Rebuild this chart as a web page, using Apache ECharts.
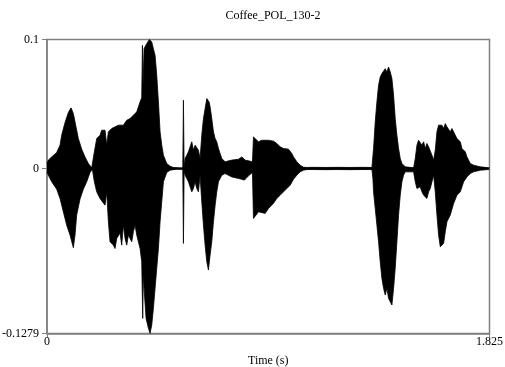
<!DOCTYPE html>
<html><head><meta charset="utf-8">
<script src="https://cdn.jsdelivr.net/npm/echarts@6/dist/echarts.min.js"></script>
<style>html,body{margin:0;padding:0;background:#fff}#c{width:505px;height:367px}</style>
</head><body><div id="c"></div>
<script>
const chartTitle = 'Coffee_POL_130-2';
const xTicks = [0, 1.825];
const yTicks = [-0.1279, 0, 0.1];
const upperEnvelope = [
[0,0.004],[0.0055,0.0065],[0.0193,0.0090],[0.0399,0.0124],[0.0537,0.0181],[0.0605,0.0258],[0.0743,0.0356],[0.0880,0.0434],[0.0991,0.0470],[0.1087,0.0426],[0.1183,0.0336],[0.1293,0.0232],[0.1431,0.0150],[0.1568,0.0090],[0.1706,0.0039],[0.1843,0.0005],
[0.1953,0.0129],[0.2050,0.0232],[0.2187,0.0258],[0.2256,0.0297],[0.2394,0.0297],[0.2463,0.0181],[0.2531,0.0284],[0.2669,0.0310],[0.2806,0.0323],[0.2944,0.0336],
[0.3013,0.0348],[0.3150,0.0336],[0.3288,0.0374],[0.3426,0.0387],[0.3563,0.0413],[0.3701,0.0439],[0.3838,0.0516],[0.3907,0.0550],[0.3935,0.0955],[0.3962,0.0650],[0.4003,0.0929],[0.4113,0.0968],[0.4223,0.1000],[0.4320,0.0981],[0.4388,0.0929],[0.4457,0.0878],[0.4526,0.0723],[0.4595,0.0516],[0.4664,0.0284],[0.4733,0.0181],[0.4801,0.0103],[0.4939,0.0039],[0.5076,0.0018],[0.5214,0.0008],[0.5489,0.0003],[0.5600,0.0004],[0.5627,0.0529],[0.5655,0.0010],[0.5695,0.0077],[0.5764,0.0103],[0.5833,0.0129],[0.5971,0.0207],[0.6039,0.0142],[0.6108,0.0181],
[0.6177,0.0181],[0.6246,0.0142],[0.6314,0.0077],[0.6383,0.0258],[0.6452,0.0387],[0.6521,0.0465],[0.6590,0.0542],[0.6686,0.0516],[0.6727,0.0478],[0.6796,0.0387],[0.6865,0.0284],[0.6934,0.0232],[0.7002,0.0207],[0.7071,0.0155],[0.7140,0.0116],[0.7209,0.0077],[0.7346,0.0052],[0.7621,0.0065],[0.7896,0.0072],[0.8034,0.0090],[0.8103,0.0103],[0.8172,0.0065],[0.8378,0.0057],[0.8474,0.0052],[0.8515,0.0245],[0.8584,0.0232],[0.8722,0.0207],[0.8860,0.0219],[0.9135,0.0219],[0.9341,0.0212],
[0.9478,0.0194],[0.9616,0.0168],[0.9754,0.0155],[0.9960,0.0150],[1.0098,0.0116],[1.0166,0.0090],[1.0304,0.0052],[1.0442,0.0026],[1.0579,0.0010],[1.0717,0.0008],[1.10,0.0009],[1.15,0.0008],[1.20,0.0009],[1.25,0.0008],[1.30,0.0009],[1.3400,0.0008],
[1.3468,0.0155],[1.3537,0.0361],[1.3606,0.0516],[1.3674,0.0645],[1.3743,0.0710],[1.3812,0.0736],[1.3950,0.0774],[1.4018,0.0749],[1.4087,0.0787],[1.4156,0.0749],[1.4225,0.0697],[1.4294,0.0568],[1.4362,0.0387],[1.4431,0.0258],[1.4500,0.0155],[1.4569,0.0077],[1.4638,0.0039],[1.4775,0.0013],[1.5119,0.0005],[1.5188,0.0077],[1.5257,0.0181],[1.5325,0.0219],[1.5394,0.0207],
[1.5463,0.0181],[1.5532,0.0207],[1.5601,0.0155],[1.5669,0.0194],[1.5738,0.0168],[1.5807,0.0155],[1.5876,0.0103],[1.5945,0.0065],[1.6013,0.0142],[1.6082,0.0284],[1.6151,0.0336],[1.6220,0.0323],[1.6289,0.0336],[1.6357,0.0310],[1.6426,0.0348],[1.6495,0.0323],[1.6632,0.0284],[1.6701,0.0310],[1.6770,0.0284],[1.6839,0.0258],[1.6908,0.0232],[1.7045,0.0207],[1.7114,0.0155],[1.7251,0.0129],[1.7320,0.0090],[1.7458,0.0039],[1.7596,0.0026],[1.7870,0.0013],[1.8214,0.0005],[1.825,0.0005]
];
const lowerEnvelope = [
[0,-0.003],[0.0055,-0.0052],[0.0193,-0.0103],[0.0399,-0.0160],[0.0537,-0.0232],[0.0674,-0.0336],[0.0812,-0.0439],[0.0949,-0.0516],[0.1087,-0.0614],[0.1156,-0.0516],[0.1224,-0.0361],[0.1362,-0.0237],[0.1499,-0.0160],[0.1637,-0.0103],[0.1775,-0.0031],[0.1871,-0.0005],
[0.1953,-0.0103],[0.2050,-0.0181],[0.2187,-0.0232],[0.2284,-0.0258],[0.2394,-0.0284],[0.2463,-0.0181],[0.2531,-0.0413],[0.2600,-0.0568],[0.2738,-0.0594],[0.2806,-0.0620],[0.2875,-0.0542],[0.3013,-0.0500],
[0.3082,-0.0594],[0.3150,-0.0439],[0.3219,-0.0542],[0.3288,-0.0594],[0.3357,-0.0516],[0.3426,-0.0542],[0.3494,-0.0568],[0.3563,-0.0490],[0.3632,-0.0439],[0.3701,-0.0516],[0.3769,-0.0568],[0.3838,-0.0620],[0.3907,-0.0723],[0.3948,-0.1162],[0.3975,-0.0800],[0.4003,-0.0929],[0.4086,-0.1162],[0.4182,-0.1239],[0.4251,-0.1278],[0.4320,-0.1213],[0.4388,-0.1084],[0.4457,-0.0929],[0.4526,-0.0774],[0.4595,-0.0620],[0.4664,-0.0413],[0.4733,-0.0258],[0.4801,-0.0103],[0.4939,-0.0031],[0.5076,-0.0013],[0.5351,-0.0005],[0.5600,-0.0005],[0.5627,-0.0581],[0.5655,-0.0020],[0.5695,-0.0052],[0.5764,-0.0077],[0.5833,-0.0103],[0.5902,-0.0116],[0.5971,-0.0181],[0.6039,-0.0155],[0.6108,-0.0103],
[0.6177,-0.0155],[0.6246,-0.0181],[0.6314,-0.0052],[0.6383,-0.0258],[0.6452,-0.0439],[0.6521,-0.0594],[0.6590,-0.0723],[0.6658,-0.0787],[0.6727,-0.0671],[0.6796,-0.0568],[0.6865,-0.0413],[0.6934,-0.0284],[0.7002,-0.0181],[0.7071,-0.0103],[0.7209,-0.0052],[0.7346,-0.0039],[0.7621,-0.0065],[0.7896,-0.0077],[0.8144,-0.0090],[0.8309,-0.0057],[0.8474,-0.0031],[0.8515,-0.0387],[0.8584,-0.0374],[0.8722,-0.0336],[0.8997,-0.0348],[0.9135,-0.0310],[0.9341,-0.0270],
[0.9478,-0.0232],[0.9616,-0.0207],[0.9754,-0.0181],[0.9891,-0.0155],[1.0029,-0.0129],[1.0166,-0.0083],[1.0304,-0.0052],[1.0442,-0.0026],[1.0579,-0.0013],[1.0717,-0.0008],[1.10,-0.0008],[1.15,-0.0009],[1.20,-0.0008],[1.25,-0.0009],[1.30,-0.0008],[1.3400,-0.0008],
[1.3441,-0.0077],[1.3468,-0.0181],[1.3537,-0.0310],[1.3606,-0.0439],[1.3674,-0.0568],[1.3743,-0.0723],[1.3812,-0.0852],[1.3881,-0.0929],[1.3950,-0.0981],[1.4018,-0.0929],[1.4087,-0.1007],[1.4225,-0.1058],[1.4294,-0.0929],[1.4362,-0.0774],[1.4431,-0.0568],[1.4500,-0.0361],[1.4569,-0.0207],[1.4638,-0.0103],[1.4706,-0.0052],[1.4775,-0.0026],[1.5119,-0.0026],[1.5188,-0.0103],[1.5257,-0.0155],[1.5325,-0.0168],[1.5394,-0.0142],
[1.5463,-0.0181],[1.5532,-0.0207],[1.5601,-0.0194],[1.5669,-0.0232],[1.5738,-0.0181],[1.5807,-0.0155],[1.5876,-0.0103],[1.5945,-0.0052],[1.6013,-0.0181],[1.6082,-0.0361],[1.6151,-0.0516],[1.6220,-0.0607],[1.6289,-0.0620],[1.6357,-0.0581],[1.6426,-0.0490],[1.6495,-0.0413],[1.6632,-0.0361],[1.6770,-0.0271],[1.6908,-0.0207],[1.7045,-0.0181],[1.7114,-0.0142],[1.7183,-0.0103],[1.7320,-0.0065],[1.7458,-0.0039],[1.7596,-0.0026],[1.7870,-0.0013],[1.8214,-0.0008],[1.825,-0.0008]
];

const font = 'Liberation Serif';
const axisGray = '#808080';
const chart = echarts.init(document.getElementById('c'), null, {renderer: 'canvas'});
function fmt(v) {
  for (const t of yTicks) if (Math.abs(v - t) < 1e-9) return String(t);
  for (const t of xTicks) if (Math.abs(v - t) < 1e-9) return String(t);
  return '';
}
const waveSeries = (data, origin) => ({
  type: 'line', data: data, showSymbol: false, symbol: 'none', sampling: null,
  lineStyle: {color: '#000', width: 0.8}, areaStyle: {color: '#000', opacity: 1, origin: origin},
  silent: true, animation: false, z: 2
});
chart.setOption({
  animation: false,
  title: {text: chartTitle, left: 268, top: 5, textAlign: 'center',
    textStyle: {fontFamily: font, fontSize: 12, fontWeight: 'normal', color: '#000'}},
  grid: {left: 47, right: 15.5, top: 39.5, bottom: 33.5, containLabel: false, outerBoundsMode: 'none',
    show: true, borderColor: axisGray, borderWidth: 1.5, backgroundColor: 'transparent'},
  xAxis: {
    type: 'value', min: 0, max: 1.825,
    name: 'Time (s)', nameLocation: 'middle', nameGap: 21,
    nameTextStyle: {fontFamily: font, fontSize: 12, color: '#000'},
    axisLine: {show: true, onZero: false, lineStyle: {color: axisGray, width: 1.5}},
    axisTick: {show: true, length: 4, customValues: xTicks, lineStyle: {color: axisGray}},
    axisLabel: {customValues: xTicks, formatter: fmt, margin: 2, fontFamily: font, fontSize: 12, color: '#000'},
    splitLine: {show: false}
  },
  yAxis: {
    type: 'value', min: -0.1279, max: 0.1,
    axisLine: {show: true, onZero: false, lineStyle: {color: axisGray, width: 1.5}},
    axisTick: {show: true, length: 5, customValues: yTicks, lineStyle: {color: axisGray}},
    axisLabel: {customValues: yTicks, formatter: fmt, margin: 8, fontFamily: font, fontSize: 12, color: '#000'},
    splitLine: {show: false}
  },
  series: [waveSeries(upperEnvelope, -0.0008), waveSeries(lowerEnvelope, 0.0008)]
});
</script>
</body></html>
